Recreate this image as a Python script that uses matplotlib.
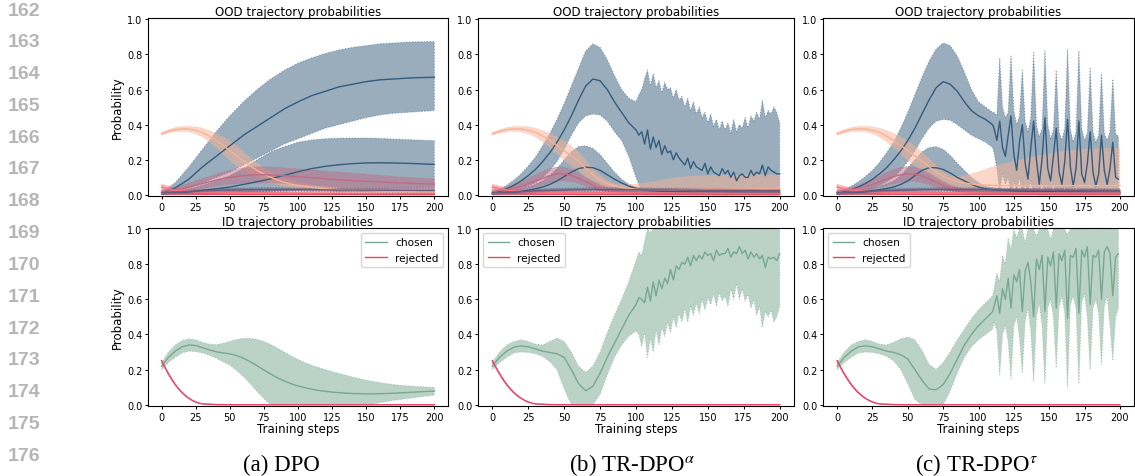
import numpy as np
import matplotlib.pyplot as plt

plt.rcParams['mathtext.fontset'] = 'stix'

W, H = 1135, 477

BLUE = '#355C7D'
PEACH = '#F8B195'
PINK = '#F67280'
MAUVE = '#C06C84'
PURPLE = '#6C5B7B'
RED = '#E84A5F'
GREEN = '#78A891'
REJ = '#E8436A'

steps5 = np.arange(0, 201, 5)
steps10 = np.arange(0, 201, 10)
steps_b = np.r_[0:100:5, 100:201:2]
steps_c = np.r_[0:111:5, 111:200:2]
steps_rej = np.r_[0:30:2, 30:201:10]

# ---------------- OOD trajectories ----------------
# DPO, large and small blue trajectories (every 10 steps)
a_blue_mean = [0.01, 0.04, 0.09, 0.16, 0.22, 0.28, 0.34, 0.39, 0.44, 0.49, 0.53,
               0.565, 0.59, 0.615, 0.63, 0.645, 0.655, 0.66, 0.665, 0.668, 0.67]
a_blue_hi = [0.015, 0.07, 0.16, 0.26, 0.36, 0.45, 0.53, 0.6, 0.66, 0.71, 0.75,
             0.78, 0.805, 0.825, 0.84, 0.85, 0.86, 0.865, 0.87, 0.872, 0.873]
a_blue_lo = [0.005, 0.015, 0.04, 0.07, 0.1, 0.13, 0.17, 0.21, 0.25, 0.29, 0.32,
             0.35, 0.38, 0.4, 0.42, 0.44, 0.455, 0.465, 0.47, 0.475, 0.48]
a_blue2_mean = [0.005, 0.01, 0.017, 0.026, 0.035, 0.045, 0.06, 0.075, 0.092, 0.112, 0.132,
                0.15, 0.163, 0.172, 0.178, 0.182, 0.183, 0.182, 0.18, 0.177, 0.174]
a_blue2_hi = [0.01, 0.02, 0.035, 0.055, 0.08, 0.11, 0.15, 0.2, 0.245, 0.275, 0.3,
              0.313, 0.32, 0.323, 0.324, 0.324, 0.322, 0.318, 0.315, 0.312, 0.309]
a_blue2_lo = [0.0, 0.002, 0.005, 0.008, 0.01, 0.012, 0.015, 0.018, 0.021, 0.024, 0.027,
              0.03, 0.032, 0.034, 0.036, 0.037, 0.038, 0.039, 0.039, 0.04, 0.04]

# low trajectories shared by all three runs (every 10 steps)
purple_mean = [0.012, 0.015, 0.019, 0.023, 0.026, 0.028, 0.029, 0.03, 0.03, 0.03, 0.03,
               0.029, 0.029, 0.028, 0.028, 0.027, 0.027, 0.026, 0.026, 0.025, 0.025]
purple_hi = [0.018, 0.022, 0.027, 0.032, 0.036, 0.038, 0.04, 0.041, 0.041, 0.041, 0.04,
             0.04, 0.039, 0.039, 0.038, 0.037, 0.037, 0.036, 0.036, 0.035, 0.035]
purple_lo = [0.006, 0.008, 0.011, 0.014, 0.016, 0.018, 0.018, 0.019, 0.019, 0.019, 0.02,
             0.018, 0.019, 0.017, 0.018, 0.017, 0.017, 0.016, 0.016, 0.015, 0.015]
red_mean = [0.008, 0.006, 0.005, 0.004, 0.004, 0.004, 0.003, 0.003, 0.003, 0.003, 0.003,
            0.003, 0.003, 0.003, 0.003, 0.002, 0.002, 0.002, 0.002, 0.002, 0.002]
red_hi = [0.013, 0.01, 0.009, 0.008, 0.008, 0.007, 0.007, 0.007, 0.006, 0.006, 0.006,
          0.006, 0.006, 0.006, 0.006, 0.005, 0.005, 0.005, 0.005, 0.005, 0.005]
red_lo = [0.003, 0.002, 0.001, 0.001, 0.001, 0.001, 0.0, 0.0, 0.0, 0.0, 0.0,
          0.0, 0.0, 0.0, 0.0, 0.0, 0.0, 0.0, 0.0, 0.0, 0.0]

# pink trajectory (every 5 steps), same in all runs
pink_mean = [0.045, 0.035, 0.028, 0.023, 0.02, 0.018, 0.017, 0.016, 0.016, 0.016,
             0.015, 0.015, 0.014, 0.014, 0.013, 0.013, 0.012, 0.012, 0.012, 0.011,
             0.011, 0.011, 0.01, 0.01, 0.01, 0.01, 0.01, 0.009, 0.009, 0.009,
             0.009, 0.009, 0.009, 0.008, 0.008, 0.008, 0.008, 0.008, 0.008, 0.008, 0.008]
pink_hi = [0.06, 0.05, 0.04, 0.034, 0.03, 0.027, 0.025, 0.024, 0.023, 0.023,
           0.022, 0.021, 0.02, 0.02, 0.019, 0.018, 0.018, 0.017, 0.017, 0.016,
           0.016, 0.016, 0.015, 0.015, 0.015, 0.014, 0.014, 0.014, 0.014, 0.013,
           0.013, 0.013, 0.013, 0.013, 0.012, 0.012, 0.012, 0.012, 0.012, 0.012, 0.012]
pink_lo = [0.03, 0.022, 0.016, 0.012, 0.01, 0.009, 0.009, 0.008, 0.008, 0.008,
           0.008, 0.008, 0.007, 0.007, 0.007, 0.007, 0.006, 0.006, 0.006, 0.006,
           0.006, 0.006, 0.005, 0.005, 0.005, 0.005, 0.005, 0.005, 0.005, 0.005,
           0.005, 0.005, 0.005, 0.004, 0.004, 0.004, 0.004, 0.004, 0.004, 0.004, 0.004]

# peach trajectory: shared steps 0-60, then one tail per run (steps 65-200)
peach_mean_early = [0.348, 0.362, 0.372, 0.376, 0.375, 0.368, 0.355, 0.335, 0.31, 0.282, 0.252, 0.222, 0.193]
peach_hi_early = [0.356, 0.372, 0.384, 0.39, 0.391, 0.388, 0.38, 0.367, 0.35, 0.33, 0.307, 0.278, 0.245]
peach_lo_early = [0.34, 0.352, 0.36, 0.362, 0.359, 0.348, 0.33, 0.303, 0.27, 0.234, 0.197, 0.166, 0.141]

a_peach_mean_tail = [0.165, 0.14, 0.118, 0.1, 0.085, 0.072, 0.062, 0.054, 0.048, 0.043,
                     0.039, 0.036, 0.033, 0.031, 0.029, 0.027, 0.026, 0.025, 0.024, 0.023,
                     0.022, 0.021, 0.02, 0.02, 0.019, 0.019, 0.018, 0.018]
a_peach_hi_tail = [0.212, 0.181, 0.153, 0.13, 0.111, 0.095, 0.082, 0.072, 0.065, 0.059,
                   0.054, 0.05, 0.046, 0.043, 0.041, 0.038, 0.037, 0.035, 0.034, 0.033,
                   0.032, 0.03, 0.029, 0.029, 0.028, 0.027, 0.026, 0.026]
a_peach_lo_tail = [0.118, 0.099, 0.083, 0.07, 0.059, 0.049, 0.042, 0.036, 0.031, 0.027,
                   0.024, 0.022, 0.02, 0.019, 0.017, 0.016, 0.015, 0.015, 0.014, 0.013,
                   0.012, 0.012, 0.011, 0.011, 0.01, 0.011, 0.01, 0.01]
b_peach_mean_tail = [0.15, 0.115, 0.085, 0.065, 0.052, 0.043, 0.037, 0.033, 0.031, 0.03,
                     0.03, 0.03, 0.03, 0.031, 0.031, 0.032, 0.032, 0.033, 0.033, 0.033,
                     0.034, 0.034, 0.034, 0.035, 0.035, 0.035, 0.035, 0.035]
b_peach_hi_tail = [0.2, 0.15, 0.11, 0.08, 0.063, 0.057, 0.058, 0.062, 0.067, 0.073,
                   0.08, 0.087, 0.094, 0.1, 0.104, 0.107, 0.109, 0.11, 0.111, 0.112,
                   0.113, 0.114, 0.114, 0.115, 0.115, 0.115, 0.115, 0.115]
b_peach_lo_tail = [0.1, 0.075, 0.055, 0.04, 0.028, 0.018, 0.01, 0.005, 0.003, 0.002,
                   0.002, 0.002, 0.002, 0.002, 0.002, 0.002, 0.002, 0.002, 0.002, 0.002,
                   0.002, 0.002, 0.002, 0.002, 0.002, 0.002, 0.002, 0.002]
c_peach_mean_tail = [0.16, 0.13, 0.105, 0.088, 0.076, 0.068, 0.062, 0.058, 0.056, 0.055,
                     0.054, 0.053, 0.053, 0.053, 0.053, 0.053, 0.053, 0.053, 0.053, 0.053,
                     0.053, 0.053, 0.053, 0.053, 0.053, 0.053, 0.053, 0.053]
c_peach_hi_tail = [0.205, 0.165, 0.13, 0.11, 0.105, 0.11, 0.12, 0.132, 0.145, 0.16,
                   0.172, 0.182, 0.19, 0.2, 0.21, 0.22, 0.228, 0.235, 0.242, 0.248,
                   0.253, 0.257, 0.26, 0.262, 0.264, 0.266, 0.267, 0.267]
c_peach_lo_tail = [0.115, 0.09, 0.07, 0.055, 0.04, 0.028, 0.018, 0.01, 0.006, 0.004,
                   0.003, 0.003, 0.003, 0.003, 0.003, 0.003, 0.003, 0.003, 0.003, 0.003,
                   0.003, 0.003, 0.003, 0.003, 0.003, 0.003, 0.003, 0.003]

# mauve trajectory (every 5 steps)
a_mauve_mean = [0.02, 0.025, 0.03, 0.037, 0.045, 0.055, 0.065, 0.075, 0.085, 0.093,
                0.1, 0.105, 0.11, 0.113, 0.115, 0.115, 0.114, 0.112, 0.11, 0.107,
                0.104, 0.101, 0.098, 0.095, 0.092, 0.089, 0.086, 0.084, 0.082, 0.08,
                0.078, 0.076, 0.074, 0.072, 0.07, 0.069, 0.067, 0.066, 0.064, 0.063, 0.062]
a_mauve_hi = [0.03, 0.037, 0.045, 0.055, 0.067, 0.08, 0.093, 0.106, 0.118, 0.13,
              0.14, 0.148, 0.154, 0.158, 0.16, 0.16, 0.159, 0.157, 0.154, 0.151,
              0.148, 0.145, 0.142, 0.139, 0.136, 0.133, 0.13, 0.127, 0.124, 0.121,
              0.118, 0.115, 0.112, 0.109, 0.106, 0.103, 0.1, 0.098, 0.096, 0.094, 0.092]
a_mauve_lo = [0.01, 0.013, 0.016, 0.02, 0.025, 0.031, 0.037, 0.043, 0.05, 0.056,
              0.06, 0.063, 0.066, 0.068, 0.07, 0.07, 0.069, 0.067, 0.066, 0.063,
              0.06, 0.057, 0.054, 0.051, 0.048, 0.045, 0.042, 0.041, 0.04, 0.039,
              0.038, 0.037, 0.036, 0.035, 0.034, 0.035, 0.034, 0.034, 0.032, 0.032, 0.032]
b_mauve_mean = [0.02, 0.025, 0.03, 0.04, 0.05, 0.065, 0.08, 0.095, 0.11, 0.12,
                0.12, 0.11, 0.095, 0.075, 0.055, 0.04, 0.03, 0.022, 0.017, 0.014,
                0.012, 0.011, 0.011, 0.011, 0.011, 0.01, 0.01, 0.01, 0.01, 0.01,
                0.01, 0.01, 0.01, 0.01, 0.01, 0.01, 0.01, 0.01, 0.01, 0.01, 0.01]
b_mauve_hi = [0.03, 0.035, 0.045, 0.06, 0.075, 0.095, 0.115, 0.135, 0.15, 0.16,
              0.158, 0.145, 0.125, 0.1, 0.078, 0.06, 0.045, 0.035, 0.028, 0.023,
              0.02, 0.019, 0.019, 0.019, 0.019, 0.018, 0.018, 0.018, 0.018, 0.018,
              0.018, 0.018, 0.018, 0.018, 0.018, 0.018, 0.018, 0.018, 0.018, 0.018, 0.018]
b_mauve_lo = [0.01, 0.015, 0.018, 0.022, 0.028, 0.035, 0.045, 0.055, 0.068, 0.078,
              0.08, 0.075, 0.065, 0.05, 0.035, 0.025, 0.018, 0.012, 0.009, 0.007,
              0.006, 0.005, 0.005, 0.005, 0.005, 0.005, 0.005, 0.005, 0.005, 0.005,
              0.005, 0.005, 0.005, 0.005, 0.005, 0.005, 0.005, 0.005, 0.005, 0.005, 0.005]
c_mauve_mean = [0.02, 0.025, 0.03, 0.038, 0.048, 0.06, 0.075, 0.09, 0.105, 0.115,
                0.12, 0.118, 0.108, 0.092, 0.072, 0.055, 0.04, 0.03, 0.022, 0.017,
                0.014, 0.013, 0.013, 0.012, 0.012, 0.012, 0.012, 0.012, 0.012, 0.012,
                0.012, 0.012, 0.012, 0.012, 0.012, 0.012, 0.012, 0.012, 0.012, 0.012, 0.012]
c_mauve_hi = [0.03, 0.035, 0.043, 0.055, 0.07, 0.088, 0.108, 0.128, 0.145, 0.157,
              0.162, 0.158, 0.145, 0.125, 0.1, 0.078, 0.058, 0.044, 0.034, 0.027,
              0.023, 0.021, 0.02, 0.02, 0.02, 0.02, 0.02, 0.02, 0.02, 0.02,
              0.02, 0.02, 0.02, 0.02, 0.02, 0.02, 0.02, 0.02, 0.02, 0.02, 0.02]
c_mauve_lo = [0.01, 0.015, 0.018, 0.022, 0.028, 0.035, 0.043, 0.053, 0.063, 0.073,
              0.078, 0.078, 0.07, 0.059, 0.045, 0.033, 0.023, 0.016, 0.011, 0.008,
              0.007, 0.006, 0.006, 0.006, 0.006, 0.006, 0.006, 0.006, 0.006, 0.006,
              0.006, 0.006, 0.006, 0.006, 0.006, 0.006, 0.006, 0.006, 0.006, 0.006, 0.006]

# TR-DPO alpha, small blue trajectory (every 5 steps)
b_blue2_mean = [0.005, 0.007, 0.01, 0.014, 0.02, 0.027, 0.035, 0.045, 0.06, 0.08,
                0.105, 0.13, 0.15, 0.158, 0.155, 0.14, 0.115, 0.09, 0.068, 0.05,
                0.038, 0.03, 0.025, 0.022, 0.02, 0.019, 0.018, 0.018, 0.017, 0.017,
                0.017, 0.016, 0.016, 0.016, 0.016, 0.015, 0.015, 0.015, 0.015, 0.015, 0.015]
b_blue2_hi = [0.01, 0.013, 0.02, 0.028, 0.035, 0.045, 0.06, 0.08, 0.11, 0.15,
              0.2, 0.245, 0.275, 0.28, 0.265, 0.23, 0.18, 0.13, 0.09, 0.06,
              0.045, 0.037, 0.032, 0.03, 0.028, 0.027, 0.026, 0.026, 0.025, 0.025,
              0.025, 0.024, 0.024, 0.024, 0.024, 0.023, 0.023, 0.023, 0.023, 0.023, 0.023]
b_blue2_lo = [0.0, 0.001, 0.002, 0.003, 0.005, 0.008, 0.011, 0.014, 0.018, 0.022,
              0.025, 0.028, 0.03, 0.03, 0.029, 0.026, 0.022, 0.018, 0.014, 0.011,
              0.009, 0.008, 0.007, 0.007, 0.006, 0.006, 0.006, 0.006, 0.006, 0.006,
              0.006, 0.006, 0.006, 0.006, 0.006, 0.006, 0.006, 0.006, 0.006, 0.006, 0.006]

# TR-DPO alpha, large blue trajectory: every 5 steps to 95, every 2 steps after
b_blue_mean = [0.01, 0.02, 0.035, 0.055, 0.08, 0.11, 0.145, 0.19, 0.24, 0.3,
               0.37, 0.45, 0.54, 0.62, 0.66, 0.65, 0.6, 0.53, 0.47, 0.41] + \
              [0.37, 0.34, 0.36, 0.29, 0.37, 0.26, 0.33, 0.27, 0.31, 0.23,
               0.28, 0.24, 0.25, 0.2, 0.24, 0.21, 0.19, 0.17, 0.21, 0.15,
               0.19, 0.16, 0.15, 0.14, 0.18, 0.12, 0.16, 0.13, 0.12, 0.11,
               0.15, 0.12, 0.14, 0.1, 0.13, 0.08, 0.11, 0.12, 0.1, 0.1,
               0.14, 0.11, 0.13, 0.12, 0.17, 0.11, 0.16, 0.14, 0.13, 0.12, 0.12]
b_blue_hi = [0.015, 0.03, 0.055, 0.085, 0.12, 0.165, 0.215, 0.28, 0.35, 0.43,
             0.52, 0.62, 0.72, 0.82, 0.86, 0.84, 0.77, 0.68, 0.6, 0.55] + \
            [0.53, 0.57, 0.6, 0.66, 0.71, 0.62, 0.69, 0.61, 0.65, 0.58,
             0.64, 0.6, 0.61, 0.55, 0.6, 0.54, 0.56, 0.5, 0.55, 0.48,
             0.53, 0.46, 0.5, 0.44, 0.47, 0.41, 0.46, 0.39, 0.43, 0.37,
             0.42, 0.37, 0.41, 0.35, 0.43, 0.36, 0.4, 0.38, 0.44, 0.38,
             0.45, 0.42, 0.47, 0.43, 0.54, 0.44, 0.48, 0.46, 0.5, 0.47, 0.41]
b_blue_lo = [0.005, 0.01, 0.015, 0.025, 0.035, 0.05, 0.07, 0.1, 0.14, 0.19,
             0.26, 0.34, 0.41, 0.45, 0.46, 0.455, 0.42, 0.36, 0.31, 0.22] + \
            [0.1, 0.06, 0.02, 0.0, 0.0, 0.0, 0.0, 0.0, 0.0, 0.0,
             0.0, 0.0, 0.0, 0.0, 0.0, 0.0, 0.0, 0.0, 0.0, 0.0,
             0.0, 0.0, 0.0, 0.0, 0.0, 0.0, 0.0, 0.0, 0.0, 0.0,
             0.0, 0.0, 0.0, 0.0, 0.0, 0.0, 0.0, 0.0, 0.0, 0.0,
             0.0, 0.0, 0.0, 0.0, 0.0, 0.0, 0.0, 0.0, 0.0, 0.0, 0.0]

# TR-DPO tau, small blue trajectory (every 5 steps)
c_blue2_mean = [0.005, 0.007, 0.01, 0.013, 0.018, 0.024, 0.03, 0.037, 0.045, 0.06,
                0.08, 0.11, 0.14, 0.155, 0.155, 0.145, 0.125, 0.1, 0.08, 0.06,
                0.045, 0.035, 0.03, 0.027, 0.025, 0.023, 0.022, 0.021, 0.02, 0.019,
                0.019, 0.018, 0.018, 0.017, 0.017, 0.016, 0.016, 0.016, 0.015, 0.015, 0.015]
c_blue2_hi = [0.01, 0.013, 0.02, 0.025, 0.03, 0.04, 0.05, 0.063, 0.08, 0.11,
              0.155, 0.2, 0.245, 0.27, 0.275, 0.26, 0.225, 0.18, 0.14, 0.1,
              0.07, 0.05, 0.04, 0.035, 0.032, 0.03, 0.029, 0.028, 0.027, 0.026,
              0.026, 0.025, 0.025, 0.024, 0.024, 0.023, 0.023, 0.023, 0.022, 0.022, 0.022]
c_blue2_lo = [0.0, 0.001, 0.002, 0.003, 0.005, 0.007, 0.009, 0.012, 0.015, 0.019,
              0.023, 0.026, 0.029, 0.03, 0.03, 0.028, 0.025, 0.02, 0.016, 0.012,
              0.01, 0.008, 0.007, 0.007, 0.006, 0.006, 0.006, 0.006, 0.006, 0.006,
              0.006, 0.006, 0.006, 0.006, 0.006, 0.006, 0.006, 0.006, 0.006, 0.006, 0.006]

# TR-DPO tau, large blue trajectory: every 5 steps to 110, every 2 steps after
c_blue_mean = [0.01, 0.02, 0.03, 0.045, 0.065, 0.09, 0.12, 0.155, 0.2, 0.25,
               0.31, 0.38, 0.46, 0.54, 0.61, 0.645, 0.63, 0.59, 0.53, 0.48,
               0.45, 0.43, 0.4] + \
              [0.38, 0.31, 0.42, 0.27, 0.22, 0.34, 0.45, 0.23, 0.14, 0.3,
               0.4, 0.18, 0.09, 0.27, 0.42, 0.2, 0.06, 0.21, 0.44, 0.15,
               0.08, 0.22, 0.38, 0.13, 0.06, 0.19, 0.43, 0.16, 0.05, 0.15,
               0.42, 0.12, 0.07, 0.18, 0.36, 0.13, 0.05, 0.12, 0.34, 0.14,
               0.06, 0.15, 0.3, 0.1, 0.09]
c_blue_hi = [0.015, 0.03, 0.05, 0.075, 0.105, 0.14, 0.185, 0.24, 0.3, 0.38,
             0.47, 0.57, 0.67, 0.76, 0.83, 0.865, 0.85, 0.79, 0.7, 0.6,
             0.53, 0.5, 0.47] + \
            [0.47, 0.45, 0.78, 0.5, 0.44, 0.47, 0.79, 0.48, 0.4, 0.45,
             0.71, 0.42, 0.36, 0.44, 0.81, 0.4, 0.33, 0.38, 0.82, 0.4,
             0.32, 0.37, 0.71, 0.36, 0.31, 0.38, 0.83, 0.37, 0.3, 0.36,
             0.82, 0.38, 0.31, 0.35, 0.72, 0.36, 0.3, 0.34, 0.69, 0.35,
             0.31, 0.36, 0.66, 0.35, 0.33]
c_blue_lo = [0.005, 0.01, 0.015, 0.02, 0.03, 0.04, 0.055, 0.075, 0.1, 0.14,
             0.19, 0.25, 0.32, 0.38, 0.42, 0.43, 0.425, 0.4, 0.37, 0.34,
             0.32, 0.3, 0.27] + \
            [0.24, 0.15, 0.02, 0.12, 0.06, 0.1, 0.0, 0.08, 0.02, 0.1,
             0.0, 0.06, 0.01, 0.08, 0.0, 0.05, 0.0, 0.07, 0.0, 0.04,
             0.0, 0.06, 0.0, 0.03, 0.0, 0.05, 0.0, 0.04, 0.0, 0.05,
             0.0, 0.03, 0.0, 0.04, 0.0, 0.03, 0.0, 0.04, 0.0, 0.03,
             0.0, 0.03, 0.0, 0.02, 0.02]

# ---------------- ID trajectories ----------------
rej_mean = [0.25, 0.22, 0.19, 0.163, 0.138, 0.115, 0.095, 0.077, 0.062, 0.048,
            0.037, 0.027, 0.019, 0.013, 0.008,
            0.005, 0.001, 0.0, 0.0, 0.0, 0.0, 0.0, 0.0, 0.0,
            0.0, 0.0, 0.0, 0.0, 0.0, 0.0, 0.0, 0.0, 0.0]
rej_hi = [0.255, 0.226, 0.197, 0.17, 0.145, 0.121, 0.1, 0.082, 0.066, 0.052,
          0.04, 0.03, 0.022, 0.015, 0.01,
          0.007, 0.003, 0.002, 0.002, 0.002, 0.002, 0.002, 0.002, 0.002,
          0.002, 0.002, 0.002, 0.002, 0.002, 0.002, 0.002, 0.002, 0.002]
rej_lo = [0.245, 0.214, 0.183, 0.156, 0.131, 0.109, 0.09, 0.072, 0.058, 0.044,
          0.034, 0.024, 0.016, 0.011, 0.006,
          0.003, 0.0, 0.0, 0.0, 0.0, 0.0, 0.0, 0.0, 0.0,
          0.0, 0.0, 0.0, 0.0, 0.0, 0.0, 0.0, 0.0, 0.0]

# DPO chosen (every 5 steps)
a_chosen_mean = [0.22, 0.27, 0.305, 0.33, 0.34, 0.337, 0.325, 0.312, 0.302, 0.295,
                 0.29, 0.28, 0.265, 0.245, 0.222, 0.198, 0.175, 0.153, 0.135, 0.12,
                 0.107, 0.097, 0.089, 0.082, 0.077, 0.072, 0.069, 0.066, 0.064, 0.063,
                 0.062, 0.062, 0.063, 0.064, 0.066, 0.068, 0.07, 0.072, 0.074, 0.076, 0.078]
a_chosen_hi = [0.24, 0.3, 0.34, 0.365, 0.375, 0.37, 0.355, 0.345, 0.342, 0.35,
               0.36, 0.372, 0.378, 0.378, 0.372, 0.36, 0.343, 0.322, 0.3, 0.278,
               0.258, 0.24, 0.225, 0.212, 0.2, 0.189, 0.178, 0.168, 0.158, 0.149,
               0.14, 0.133, 0.126, 0.12, 0.115, 0.111, 0.108, 0.105, 0.103, 0.101, 0.1]
a_chosen_lo = [0.2, 0.24, 0.27, 0.295, 0.305, 0.303, 0.295, 0.282, 0.265, 0.245,
               0.225, 0.195, 0.16, 0.12, 0.075, 0.035, 0.0, 0.0, 0.0, 0.0,
               0.0, 0.0, 0.0, 0.0, 0.0, 0.0, 0.0, 0.0, 0.0, 0.0,
               0.0, 0.004, 0.012, 0.018, 0.025, 0.03, 0.035, 0.04, 0.045, 0.05, 0.055]

# TR-DPO alpha chosen
b_chosen_mean = [0.22, 0.27, 0.305, 0.328, 0.335, 0.33, 0.318, 0.305, 0.298, 0.29,
                 0.27, 0.2, 0.12, 0.08, 0.105, 0.18, 0.27, 0.35, 0.43, 0.51] + \
                [0.57, 0.61, 0.6, 0.58, 0.67, 0.59, 0.7, 0.62, 0.71, 0.66,
                 0.72, 0.69, 0.77, 0.71, 0.79, 0.77, 0.81, 0.8, 0.84, 0.79,
                 0.85, 0.82, 0.85, 0.83, 0.87, 0.85, 0.86, 0.82, 0.88, 0.85,
                 0.86, 0.86, 0.89, 0.84, 0.87, 0.86, 0.9, 0.86, 0.88, 0.83,
                 0.87, 0.84, 0.86, 0.83, 0.85, 0.78, 0.84, 0.83, 0.84, 0.82, 0.86]
b_chosen_hi = [0.24, 0.3, 0.34, 0.36, 0.37, 0.36, 0.345, 0.34, 0.36, 0.38,
               0.36, 0.3, 0.22, 0.185, 0.22, 0.3, 0.41, 0.51, 0.6, 0.7] + \
              [0.82, 0.87, 0.85, 0.93, 1.0, 0.98, 1.0, 1.0, 1.0, 1.0,
               1.0, 1.0, 1.0, 1.0, 1.0, 1.0, 1.0, 1.0, 1.0, 1.0,
               1.0, 1.0, 1.0, 1.0, 1.0, 1.0, 1.0, 1.0, 1.0, 1.0,
               1.0, 1.0, 1.0, 1.0, 1.0, 1.0, 1.0, 1.0, 1.0, 1.0,
               1.0, 1.0, 1.0, 1.0, 1.0, 1.0, 1.0, 1.0, 1.0, 1.0, 1.0]
b_chosen_lo = [0.2, 0.24, 0.27, 0.295, 0.3, 0.298, 0.29, 0.275, 0.245, 0.2,
               0.09, 0.0, 0.0, 0.0, 0.0, 0.06, 0.17, 0.27, 0.34, 0.39] + \
              [0.42, 0.4, 0.33, 0.41, 0.27, 0.38, 0.3, 0.43, 0.34, 0.44,
               0.39, 0.47, 0.41, 0.5, 0.44, 0.52, 0.47, 0.55, 0.47, 0.56,
               0.51, 0.58, 0.52, 0.6, 0.54, 0.61, 0.57, 0.63, 0.56, 0.64,
               0.59, 0.62, 0.56, 0.66, 0.6, 0.69, 0.6, 0.66, 0.59, 0.63,
               0.55, 0.6, 0.51, 0.56, 0.44, 0.53, 0.5, 0.54, 0.47, 0.5, 0.56]

# TR-DPO tau chosen
c_chosen_mean = [0.22, 0.27, 0.305, 0.33, 0.335, 0.33, 0.318, 0.305, 0.298, 0.285,
                 0.26, 0.2, 0.14, 0.09, 0.085, 0.115, 0.18, 0.26, 0.34, 0.4,
                 0.45, 0.49, 0.53] + \
                [0.56, 0.62, 0.52, 0.66, 0.6, 0.72, 0.55, 0.74, 0.7, 0.77,
                 0.53, 0.76, 0.81, 0.7, 0.5, 0.83, 0.77, 0.85, 0.53, 0.84,
                 0.79, 0.87, 0.55, 0.86, 0.82, 0.88, 0.49, 0.85, 0.84, 0.89,
                 0.52, 0.88, 0.84, 0.9, 0.57, 0.85, 0.84, 0.88, 0.6, 0.87,
                 0.9, 0.86, 0.62, 0.84, 0.86]
c_chosen_hi = [0.24, 0.3, 0.34, 0.36, 0.37, 0.36, 0.345, 0.34, 0.355, 0.375,
               0.385, 0.37, 0.31, 0.23, 0.2, 0.24, 0.3, 0.37, 0.43, 0.49,
               0.54, 0.58, 0.62] + \
              [0.66, 0.75, 0.7, 0.85, 0.8, 0.95, 0.88, 1.0, 0.95, 1.0,
               1.0, 0.92, 1.0, 1.0, 1.0, 0.96, 1.0, 1.0, 1.0, 1.0,
               0.94, 1.0, 1.0, 1.0, 1.0, 1.0, 0.97, 1.0, 1.0, 1.0,
               1.0, 1.0, 1.0, 1.0, 1.0, 1.0, 1.0, 1.0, 1.0, 1.0,
               1.0, 1.0, 1.0, 1.0, 1.0]
c_chosen_lo = [0.2, 0.24, 0.27, 0.295, 0.3, 0.298, 0.29, 0.275, 0.25, 0.2,
               0.12, 0.03, 0.0, 0.0, 0.0, 0.0, 0.08, 0.18, 0.27, 0.33,
               0.37, 0.4, 0.43] + \
              [0.47, 0.42, 0.17, 0.4, 0.45, 0.36, 0.15, 0.45, 0.5, 0.38,
               0.18, 0.48, 0.55, 0.42, 0.13, 0.5, 0.58, 0.45, 0.12, 0.55,
               0.6, 0.5, 0.21, 0.56, 0.62, 0.52, 0.1, 0.57, 0.62, 0.55,
               0.12, 0.58, 0.63, 0.5, 0.2, 0.55, 0.6, 0.52, 0.23, 0.56,
               0.62, 0.45, 0.25, 0.5, 0.55]

captions = ['(a) DPO', '(b) TR-DPO$^{\\alpha}$', '(c) TR-DPO$^{\\tau}$']
line_numbers = list(range(162, 177))


def band(ax, x, mean, lo, hi, color, label=None):
    ax.fill_between(x, lo, hi, color=color, alpha=0.5, linestyle=':', linewidth=0.8)
    ax.plot(x, mean, color=color, linewidth=1.0, label=label)


def px_axes(fig, left, top, right, bottom):
    return fig.add_axes([left / W, 1 - bottom / H, (right - left) / W, (bottom - top) / H])


fig = plt.figure(figsize=(W / 100, H / 100), dpi=100)

cols = [(148, 448), (478, 794), (823, 1134)]
top_row = (18.5, 197)
bottom_row = (229, 407)

ood = [
    dict(blue=(steps10, a_blue_mean, a_blue_lo, a_blue_hi),
         blue2=(steps10, a_blue2_mean, a_blue2_lo, a_blue2_hi),
         peach=(a_peach_mean_tail, a_peach_lo_tail, a_peach_hi_tail),
         mauve=(a_mauve_mean, a_mauve_lo, a_mauve_hi)),
    dict(blue=(steps_b, b_blue_mean, b_blue_lo, b_blue_hi),
         blue2=(steps5, b_blue2_mean, b_blue2_lo, b_blue2_hi),
         peach=(b_peach_mean_tail, b_peach_lo_tail, b_peach_hi_tail),
         mauve=(b_mauve_mean, b_mauve_lo, b_mauve_hi)),
    dict(blue=(steps_c, c_blue_mean, c_blue_lo, c_blue_hi),
         blue2=(steps5, c_blue2_mean, c_blue2_lo, c_blue2_hi),
         peach=(c_peach_mean_tail, c_peach_lo_tail, c_peach_hi_tail),
         mauve=(c_mauve_mean, c_mauve_lo, c_mauve_hi)),
]
chosen = [
    (steps5, a_chosen_mean, a_chosen_lo, a_chosen_hi),
    (steps_b, b_chosen_mean, b_chosen_lo, b_chosen_hi),
    (steps_c, c_chosen_mean, c_chosen_lo, c_chosen_hi),
]


def style(ax, ylim):
    ax.set_xlim(-10, 210)
    ax.set_ylim(*ylim)
    ax.set_xticks(np.arange(0, 201, 25))
    ax.set_yticks(np.arange(0, 1.01, 0.2))
    ax.tick_params(labelsize=7, length=2.5, width=0.7, pad=1.5)
    for s in ax.spines.values():
        s.set_linewidth(0.8)


for i, (l, r) in enumerate(cols):
    d = ood[i]
    ax = px_axes(fig, l, top_row[0], r, top_row[1])
    band(ax, *d['blue'], BLUE)
    band(ax, *d['blue2'], BLUE)
    pm, plo, phi = d['peach']
    band(ax, steps5, peach_mean_early + pm, peach_lo_early + plo, peach_hi_early + phi, PEACH)
    band(ax, steps5, *d['mauve'], MAUVE)
    band(ax, steps5, pink_mean, pink_lo, pink_hi, PINK)
    band(ax, steps10, purple_mean, purple_lo, purple_hi, PURPLE)
    band(ax, steps10, red_mean, red_lo, red_hi, RED)
    style(ax, (-0.006, 1.01))
    ax.set_title('OOD trajectory probabilities', fontsize=8.5, pad=2)
    if i == 0:
        ax.set_ylabel('Probability', fontsize=8.5, labelpad=2)

    ax = px_axes(fig, l, bottom_row[0], r, bottom_row[1])
    band(ax, *chosen[i], GREEN, label='chosen')
    band(ax, steps_rej, rej_mean, rej_lo, rej_hi, REJ, label='rejected')
    style(ax, (-0.007, 1.006))
    ax.set_title('ID trajectory probabilities', fontsize=8.5, pad=2)
    ax.set_xlabel('Training steps', fontsize=8.5, labelpad=0.5)
    if i == 0:
        ax.set_ylabel('Probability', fontsize=8.5, labelpad=2)
    ax.legend(loc='upper right' if i == 0 else 'upper left', fontsize=7.6)

# subfigure captions
for x, text in zip([281, 632, 976], captions):
    fig.text(x / W, 1 - 465 / H, text, ha='center', va='center',
             fontsize=16.5, family='Liberation Serif')

# page line numbers in the margin
for k, n in enumerate(line_numbers):
    fig.text(40 / W, 1 - (11 + 31.8 * k) / H, str(n), ha='right', va='center',
             fontsize=14, color='#b5b5b5', family='Liberation Sans', weight='bold')

fig.savefig('out.png', dpi=100)
